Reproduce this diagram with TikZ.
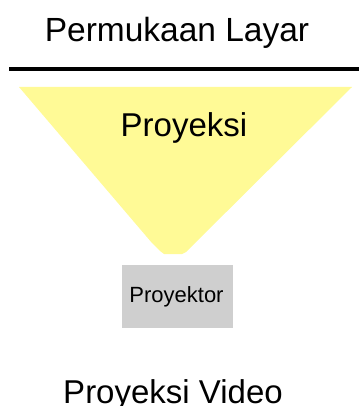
\documentclass[tikz,border=0pt]{standalone}
\usepackage{fontspec}
\setmainfont{Liberation Sans}
\definecolor{beam}{HTML}{FFFA96}
\definecolor{boxgray}{HTML}{CFCFCF}
\tikzset{
  bigtext/.style={inner sep=0pt, anchor=base, font=\fontsize{33.5}{36}\selectfont},
  projbox/.style={fill=boxgray, draw=none, minimum width=111pt, minimum height=63pt, inner sep=0pt, anchor=north west},
}
\begin{document}
\begin{tikzpicture}[x=1pt,y=-1pt]
\useasboundingbox (0,0) rectangle (359,406);
% screen surface
\node[bigtext] (title) at (177,42) {Permukaan Layar};
\coordinate (sl) at (9,69);
\coordinate (sr) at (359,69);
\draw[line width=3.5pt] (sl) -- (sr);
% projection beam
\fill[beam] (19,87) -- (352,87) -- (186,252) -- (182,254) -- (164,254) -- (160,251) -- (152,243) -- cycle;
\node[bigtext, font=\fontsize{33}{36}\selectfont] (proj) at (184,137) {Proyeksi};
% projector
\node[projbox] (box) at (122,265) {};
\node[inner sep=0pt, anchor=base, font=\fontsize{22}{24}\selectfont] (plabel) at (176.5,302) {Proyektor};
% caption
\node[bigtext, font=\fontsize{33}{36}\selectfont] (caption) at (173,403) {Proyeksi Video};
\end{tikzpicture}
\end{document}
